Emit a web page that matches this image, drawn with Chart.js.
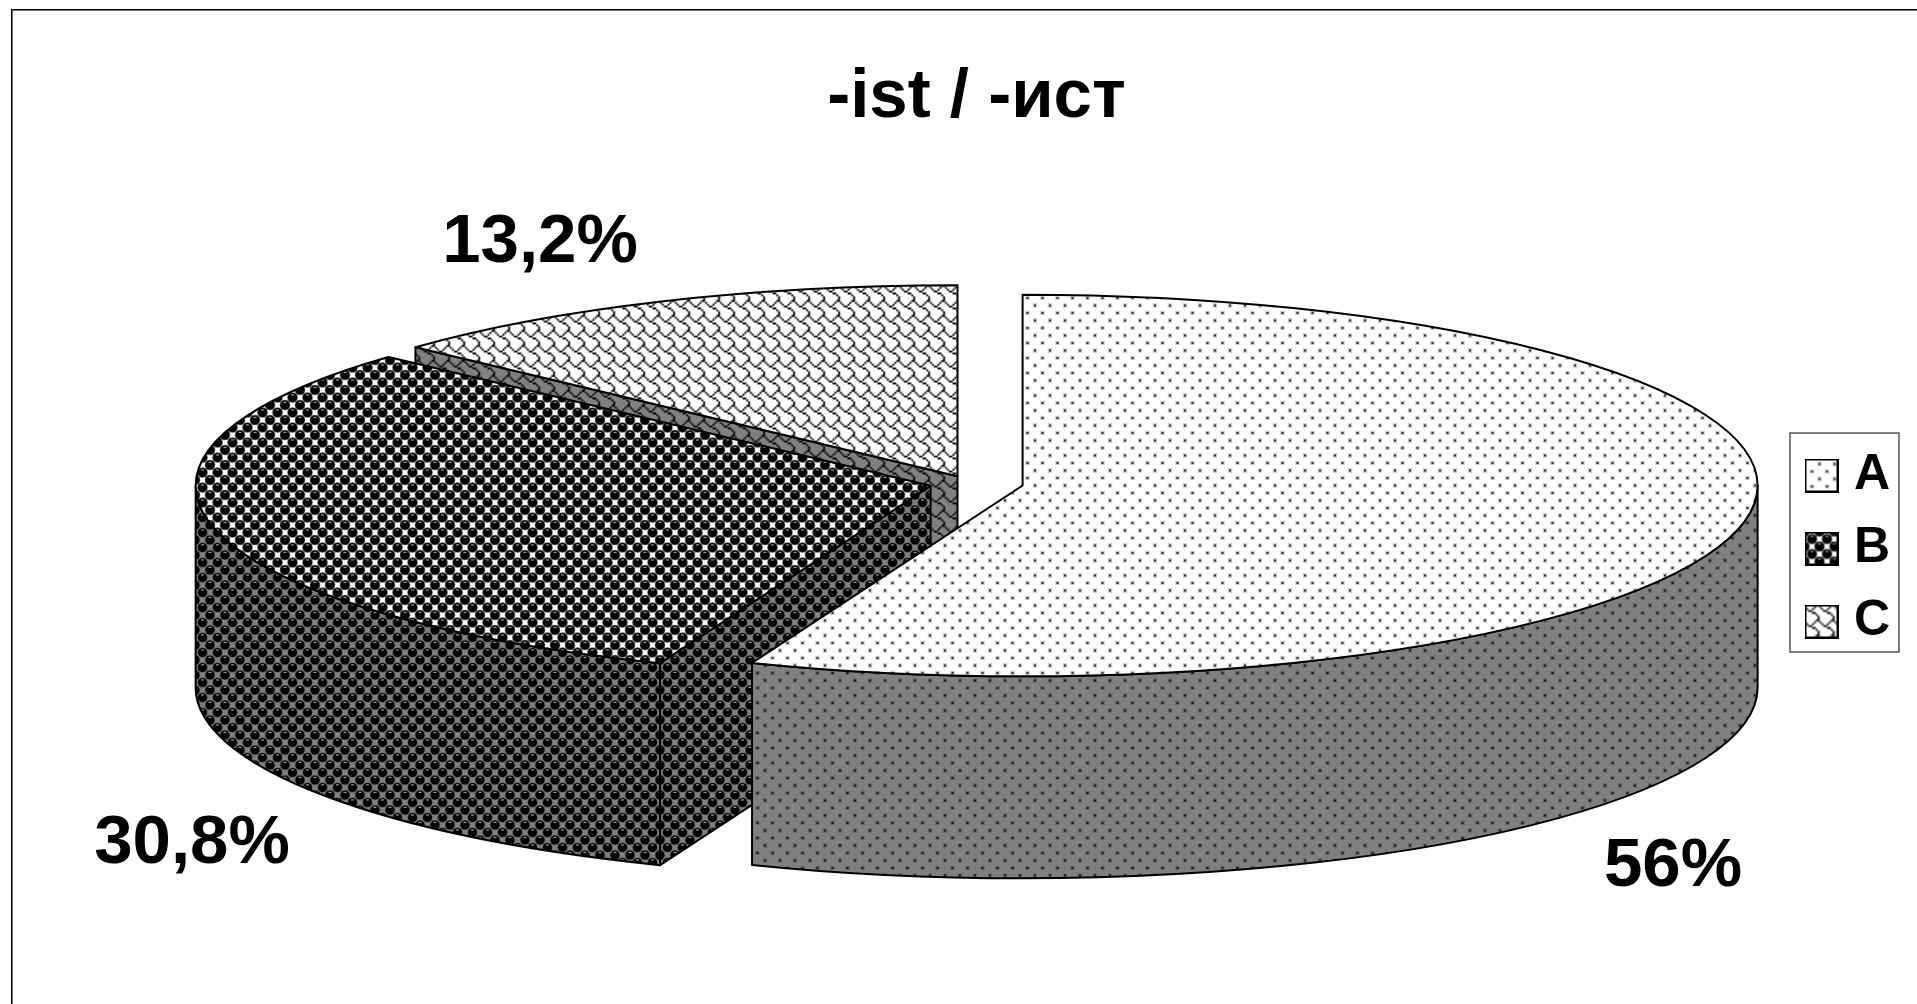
<!DOCTYPE html>
<html>
<head>
<meta charset="utf-8">
<title>-ist / -ист</title>
<style>
  html, body { margin: 0; background: #fff; }
  canvas { display: block; }
</style>
<script src="https://cdn.jsdelivr.net/npm/chart.js@4"></script>
</head>
<body>
<canvas id="pie" width="1917" height="1004"></canvas>
<script>
'use strict';

// ── DATA ───────────────────────────────────────────────────────────────────
const CATEGORIES = ['A', 'B', 'C'];
const SHARES = [56, 30.8, 13.2];
const TITLE = '-ist / -ист';

// ── GEOMETRY ───────────────────────────────────────────────────────────────
const FLATTEN = 0.2596;      // vertical squash of the tilted disc
const EXPLODE_FLATTEN = 0.18;
const WALL_HEIGHT = 202;
const RADIUS = 735;
const EXPLODE = 47;
const FONT = '"Liberation Sans", Arial, sans-serif';
const LABEL_POS = [[1673, 867], [192, 844], [540, 243]];
const LEGEND_FRAME = { left: 1790, top: 433, right: 1899, bottom: 652 };

// ── FILL PATTERNS ──────────────────────────────────────────────────────────
const TILE = 15;
const WALL_GREY = '#808080';

// 8x8 hatch bitmap, one byte per row
const SHINGLE = [0x03, 0x84, 0x48, 0x30, 0x0c, 0x02, 0x01, 0x01];

function newTile(bg) {
  const tile = document.createElement('canvas');
  tile.width = tile.height = TILE;
  const t = tile.getContext('2d');
  t.fillStyle = bg;
  t.fillRect(0, 0, TILE, TILE);
  return [tile, t];
}

function hatchTile(rows, bg) {
  const small = document.createElement('canvas');
  small.width = small.height = 24;
  const s = small.getContext('2d');
  s.fillStyle = bg;
  s.fillRect(0, 0, 24, 24);
  s.fillStyle = '#000';
  for (let y = 0; y < 24; y++) {
    for (let x = 0; x < 24; x++) {
      if (rows[y % 8] & (0x80 >> (x % 8))) s.fillRect(x, y, 1, 1);
    }
  }
  const [tile, t] = newTile(bg);
  t.imageSmoothingEnabled = true;
  t.drawImage(small, -TILE, -TILE, TILE * 3, TILE * 3);
  return tile;
}

function dotTile(bg) {
  const [tile, t] = newTile(bg);
  [[0, 5.5], [TILE, 5.5], [7.5, 13]].forEach(([x, y]) => {
    t.fillStyle = 'rgba(0,0,0,0.22)';
    t.fillRect(x - 2.2, y - 2.2, 4.4, 4.4);
    t.fillStyle = 'rgba(0,0,0,0.75)';
    t.fillRect(x - 1, y - 1, 2, 2);
  });
  return tile;
}

function sphereTile(bg) {
  const [tile, t] = newTile(bg === '#fff' ? '#999' : '#6e6e6e');
  const half = TILE / 2;
  t.fillStyle = bg;
  [[half, 0], [0, half], [TILE, half], [half, TILE]].forEach(([x, y]) => {
    t.fillRect(x - 2.8, y - 2.8, 5.6, 5.6);
  });
  [[0, 0], [TILE, 0], [0, TILE], [TILE, TILE], [half, half]].forEach(([x, y]) => {
    t.fillStyle = '#666';
    t.beginPath();
    t.arc(x, y, 5.3, 0, Math.PI * 2);
    t.fill();
    t.fillStyle = '#000';
    t.beginPath();
    t.arc(x, y, 4.6, 0, Math.PI * 2);
    t.fill();
    t.fillStyle = '#999';
    t.fillRect(x - 1.5, y - 3.2, 3, 1.2);
  });
  return tile;
}

function makeFills(bg) {
  const ctx = document.createElement('canvas').getContext('2d');
  return [
    ctx.createPattern(dotTile(bg), 'repeat'),
    ctx.createPattern(sphereTile(bg), 'repeat'),
    ctx.createPattern(hatchTile(SHINGLE, bg), 'repeat')
  ];
}

const TOP_FILLS = makeFills('#fff');
const WALL_FILLS = makeFills(WALL_GREY);

function swatch(fill) {
  const c = document.createElement('canvas');
  c.width = c.height = 34;
  const x = c.getContext('2d');
  x.fillStyle = fill;
  x.fillRect(0, 0, 34, 34);
  x.strokeStyle = '#000';
  x.lineWidth = 2;
  x.strokeRect(1, 1, 32, 32);
  return c;
}

// ── 3D SLICE ───────────────────────────────────────────────────────────────
class Slice3D extends Chart.ArcElement {
  draw(ctx) {
    const { x, y, startAngle, endAngle, outerRadius: r } = this.getProps(['x', 'y', 'startAngle', 'endAngle', 'outerRadius']);
    const mid = (startAngle + endAngle) / 2;
    const cx = x + Math.cos(mid) * this.options.offset;
    const cy = y + Math.sin(mid) * this.options.offset * EXPLODE_FLATTEN;
    const ry = r * FLATTEN;

    ctx.save();
    ctx.lineWidth = 2;
    ctx.lineJoin = 'round';
    ctx.strokeStyle = '#000';

    const paint = fill => {
      ctx.fillStyle = fill;
      ctx.fill();
      ctx.stroke();
    };

    // cut faces that turn towards the viewer
    const cutFace = angle => {
      const ex = cx + Math.cos(angle) * r;
      const ey = cy + Math.sin(angle) * ry;
      ctx.beginPath();
      ctx.moveTo(cx, cy);
      ctx.lineTo(ex, ey);
      ctx.lineTo(ex, ey + WALL_HEIGHT);
      ctx.lineTo(cx, cy + WALL_HEIGHT);
      ctx.closePath();
      paint(WALL_FILLS[this.$context.dataIndex]);
    };
    if (Math.cos(endAngle) > 1e-9) cutFace(endAngle);
    if (Math.cos(startAngle) < -1e-9) cutFace(startAngle);

    // outer rim, only the front half of the disc shows
    const from = Math.max(startAngle, 0);
    const to = Math.min(endAngle, Math.PI);
    if (to > from) {
      ctx.beginPath();
      ctx.ellipse(cx, cy, r, ry, 0, from, to);
      ctx.ellipse(cx, cy + WALL_HEIGHT, r, ry, 0, to, from, true);
      ctx.closePath();
      paint(WALL_FILLS[this.$context.dataIndex]);
    }

    // top face
    ctx.beginPath();
    ctx.moveTo(cx, cy);
    ctx.ellipse(cx, cy, r, ry, 0, startAngle, endAngle);
    ctx.closePath();
    paint(this.options.backgroundColor);
    ctx.restore();
  }
}
Slice3D.id = 'slice3d';
Slice3D.defaults = { ...Chart.ArcElement.defaults };

// back slices first so the front ones overlap them
class Pie3DController extends Chart.PieController {
  draw() {
    const elements = this._cachedMeta.data;
    for (let i = elements.length - 1; i >= 0; i--) {
      elements[i].draw(this._ctx, this.chart.chartArea);
    }
  }
}
Pie3DController.id = 'pie3d';
Pie3DController.defaults = { dataElementType: 'slice3d' };

Chart.register(Slice3D, Pie3DController);

// ── FRAMES AND VALUE LABELS ────────────────────────────────────────────────
const decorations = {
  id: 'decorations',
  afterLayout(chart) {
    const lg = chart.legend;
    lg.left = 1791;
    lg.right = lg.left + lg.width;
    lg.top = 402;
    lg.bottom = 695;
  },
  beforeDraw(chart) {
    const { ctx, width, height } = chart;
    ctx.save();
    ctx.fillStyle = '#fff';
    ctx.fillRect(0, 0, width, height);
    ctx.lineWidth = 1;
    ctx.strokeStyle = '#777';
    ctx.strokeRect(12.5, 10.5, width, height);
    ctx.strokeStyle = '#000';
    ctx.strokeRect(11.5, 9.5, width, height);
    ctx.strokeStyle = '#555';
    ctx.lineWidth = 1.5;
    const f = LEGEND_FRAME;
    ctx.strokeRect(f.left, f.top, f.right - f.left, f.bottom - f.top);
    ctx.restore();
  },
  afterDatasetsDraw(chart) {
    const { ctx } = chart;
    ctx.save();
    ctx.fillStyle = '#000';
    ctx.font = 'bold 69px ' + FONT;
    ctx.textAlign = 'center';
    ctx.textBaseline = 'middle';
    SHARES.forEach((v, i) => {
      ctx.fillText(String(v).replace('.', ',') + '%', LABEL_POS[i][0], LABEL_POS[i][1]);
    });
    ctx.restore();
  }
};

// ── CHART ──────────────────────────────────────────────────────────────────
new Chart(document.getElementById('pie'), {
  type: 'pie3d',
  data: {
    labels: CATEGORIES,
    datasets: [{
      data: SHARES,
      backgroundColor: TOP_FILLS,
      offset: EXPLODE,
      radius: RADIUS,
      borderWidth: 0,
      clip: false
    }]
  },
  options: {
    responsive: false,
    animation: false,
    events: [],
    layout: { padding: { left: 163, right: 18, top: 0, bottom: 176 } },
    plugins: {
      title: {
        display: true,
        text: TITLE,
        color: '#000',
        fullSize: false,
        font: { family: FONT, size: 69, weight: 'bold' },
        padding: { top: 57, bottom: 0 }
      },
      legend: {
        position: 'right',
        labels: {
          color: '#000',
          font: { family: FONT, size: 50, weight: 'bold' },
          usePointStyle: true,
          boxWidth: 15,
          padding: 23,
          generateLabels: () => CATEGORIES.map((text, index) => ({
            text,
            index,
            hidden: false,
            pointStyle: swatch(TOP_FILLS[index]),
            lineWidth: 0
          }))
        }
      },
      tooltip: { enabled: false }
    }
  },
  plugins: [decorations]
});
</script>
</body>
</html>
